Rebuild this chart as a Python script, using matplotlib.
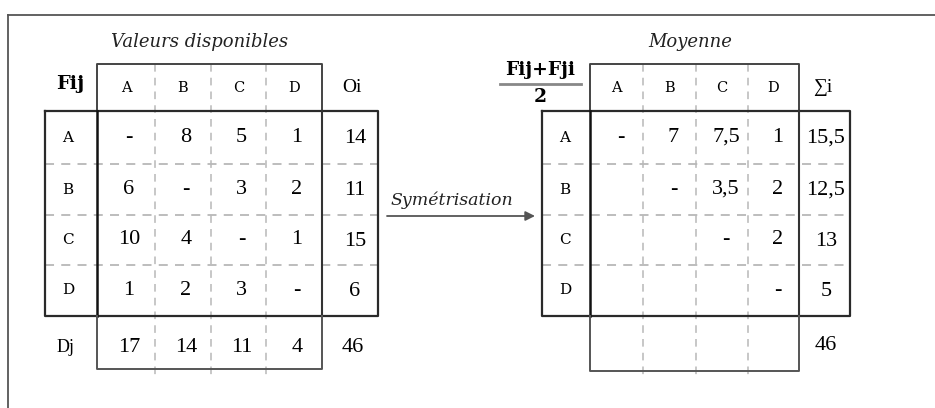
import matplotlib
matplotlib.use("Agg")
import matplotlib.pyplot as plt

# data
cols = ["A", "B", "C", "D"]
rows = ["A", "B", "C", "D"]
fij = [["-", "8", "5", "1"],
       ["6", "-", "3", "2"],
       ["10", "4", "-", "1"],
       ["1", "2", "3", "-"]]
oi = ["14", "11", "15", "6"]
dj = ["17", "14", "11", "4"]
total = "46"
moyenne = [["-", "7", "7,5", "1"],
           ["", "-", "3,5", "2"],
           ["", "", "-", "2"],
           ["", "", "", "-"]]
sums = ["15,5", "12,5", "13", "5"]

NUM = "Liberation Serif"
LAB = "DejaVu Serif"
DARK = "#2a2a2a"
GREY = "#b8b8b8"

fig = plt.figure(figsize=(9.35, 4.08), dpi=100)
ax = fig.add_axes([0, 0, 1, 1])
ax.set_xlim(0, 935)
ax.set_ylim(408, 0)
ax.axis("off")

# outer frame (top + left only visible)
ax.plot([8, 935], [15, 15], color="#555555", lw=1.3)
ax.plot([8, 8], [15, 408], color="#555555", lw=1.3)

row_y = [111, 164, 215, 265, 316]


def draw_table(xs, label_x0, right_x, head_top, bottom_y, title, title_x):
    # xs: column edges (5 values)
    x0, x1 = xs[0], xs[-1]
    # dashed row lines
    for y in row_y[1:-1]:
        ax.plot([label_x0, right_x], [y, y], color=GREY, lw=1.3, ls=(0, (5, 4)))
    # dashed column lines
    for x in xs[1:-1]:
        ax.plot([x, x], [head_top, bottom_y + 8], color=GREY, lw=1.1, ls=(0, (5, 4)))
    # header box
    ax.plot([x0, x0, x1, x1], [row_y[0], head_top, head_top, row_y[0]], color="#444444", lw=1.4)
    # main box
    ax.plot([label_x0, right_x, right_x, label_x0, label_x0],
            [row_y[0], row_y[0], row_y[-1], row_y[-1], row_y[0]], color=DARK, lw=1.6)
    ax.plot([x0, x0], [row_y[0], row_y[-1]], color="#111111", lw=1.8)
    ax.plot([x1, x1], [row_y[0], row_y[-1]], color="#333333", lw=1.5)
    # bottom box
    ax.plot([x0, x0, x1, x1], [row_y[-1], bottom_y, bottom_y, row_y[-1]], color="#555555", lw=1.4)
    ax.text(title_x, 42, title, fontsize=13, fontstyle="italic", family=LAB,
            ha="center", va="center", color="#222222")
    return [(xs[i] + xs[i + 1]) / 2 for i in range(4)]


# left table
lx = [97, 155, 211, 266, 322]
cx = draw_table(lx, 45, 378, 64, 369, "Valeurs disponibles", 200)
ax.text(70, 84, "Fij", fontsize=14, fontweight="bold", family=LAB, ha="center", va="center")
ax.text(352, 88, "Oi", fontsize=14, family=NUM, ha="center", va="center")
for j, c in enumerate(cols):
    ax.text(cx[j], 88, c, fontsize=10.5, family=LAB, ha="center", va="center")
for i, r in enumerate(rows):
    yc = (row_y[i] + row_y[i + 1]) / 2
    ax.text(68, yc, r, fontsize=11, family=LAB, ha="center", va="center")
    for j in range(4):
        ax.text(cx[j] + 3, yc, fij[i][j], fontsize=16, family=NUM, ha="center", va="center")
    ax.text(355, yc + 1, oi[i], fontsize=16, family=NUM, ha="center", va="center")
dy = 348
ax.text(65, dy, "Dj", fontsize=13, family=NUM, ha="center", va="center")
for j in range(4):
    ax.text(cx[j] + 3, dy, dj[j], fontsize=16, family=NUM, ha="center", va="center")
ax.text(353, dy, total, fontsize=16, family=NUM, ha="center", va="center")

# arrow
ax.annotate("", xy=(535, 216), xytext=(387, 216),
            arrowprops=dict(arrowstyle="-|>", color="#555555", lw=1.3,
                            mutation_scale=14, shrinkA=0, shrinkB=0))
ax.text(452, 200, "Symétrisation", fontsize=12.5, fontstyle="italic", family=LAB,
        ha="center", va="center", color="#222222")

# right table
rx = [590, 643, 696, 748, 799]
cx2 = draw_table(rx, 542, 850, 64, 371, "Moyenne", 690)
ax.text(540, 70, "Fij+Fji", fontsize=13.5, fontweight="bold", family=LAB, ha="center", va="center")
ax.plot([500, 581], [84, 84], color="#888888", lw=2)
ax.text(540, 97, "2", fontsize=13.5, fontweight="bold", family=LAB, ha="center", va="center")
ax.text(823, 88, "∑i", fontsize=14, family=NUM, ha="center", va="center")
for j, c in enumerate(cols):
    ax.text(cx2[j], 88, c, fontsize=10.5, family=LAB, ha="center", va="center")
for i, r in enumerate(rows):
    yc = (row_y[i] + row_y[i + 1]) / 2
    ax.text(565, yc, r, fontsize=11, family=LAB, ha="center", va="center")
    for j in range(4):
        ax.text(cx2[j] + 4, yc, moyenne[i][j], fontsize=16, family=NUM, ha="center", va="center")
    ax.text(826, yc + 1, sums[i], fontsize=16, family=NUM, ha="center", va="center")
ax.text(826, 345, total, fontsize=16, family=NUM, ha="center", va="center")

fig.savefig("out.png", dpi=100)
